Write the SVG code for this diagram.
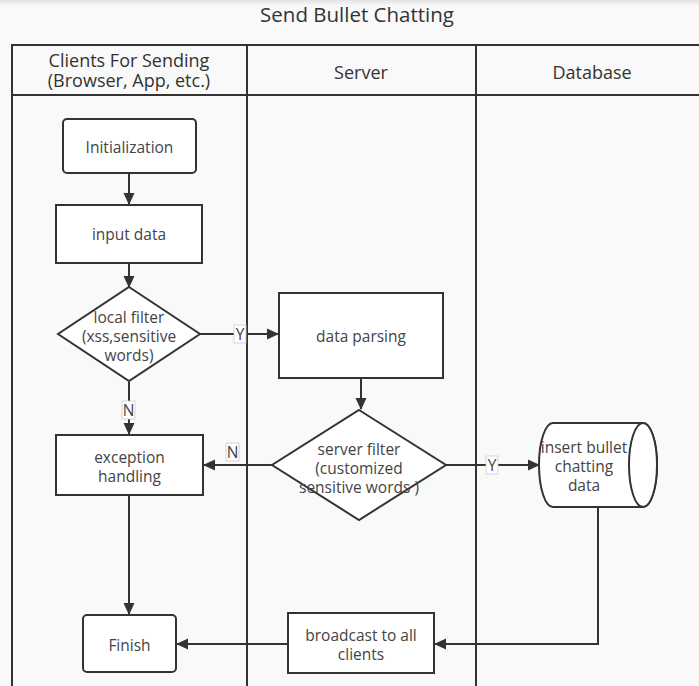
<svg xmlns="http://www.w3.org/2000/svg" width="699" height="686" viewBox="0 0 699 686">
<defs>
<marker id="ah" markerWidth="12" markerHeight="12" refX="11" refY="6" orient="auto" markerUnits="userSpaceOnUse" viewBox="0 0 12 12">
<path d="M0,0.500 L12,6 L0,11.500 Z" fill="#333"/>
</marker>
<linearGradient id="sh" x1="0" y1="0" x2="0" y2="1">
<stop offset="0" stop-color="#e4e4e4"/>
<stop offset="1" stop-color="#f9f9f9"/>
</linearGradient>
</defs>
<style>
text{font-family:"Open Sans","Noto Sans","Liberation Sans",sans-serif;fill:#444;text-anchor:middle}
.t{font-size:15.500px}
.h{font-size:18px;fill:#333}
.node{fill:#fff;stroke:#333;stroke-width:2}
.lane{fill:none;stroke:#333;stroke-width:2}
.c{fill:none;stroke:#333;stroke-width:2}
.lb{fill:#fff;stroke:#ccc;stroke-width:0.8}
</style>
<rect width="699" height="686" fill="#f9f9f9"/>
<rect width="699" height="6" fill="url(#sh)"/>
<text x="357" y="22" style="font-size:20.500px;fill:#333">Send Bullet Chatting</text>
<g id="lanes">
<path class="lane" d="M12,686 V45 H699 M12,95 H699 M247,45 V686 M476,45 V686"/>
<text class="h" x="129" y="67">Clients For Sending</text>
<text class="h" x="129" y="87">(Browser, App, etc.)</text>
<text class="h" x="361" y="79">Server</text>
<text class="h" x="592" y="79">Database</text>
</g>
<g id="connectors">
<path class="c" d="M129,173 V204" marker-end="url(#ah)"/>
<path class="c" d="M129,263 V287" marker-end="url(#ah)"/>
<path class="c" d="M200,334 H278" marker-end="url(#ah)"/>
<path class="c" d="M361,378 V409" marker-end="url(#ah)"/>
<path class="c" d="M129,382 V434" marker-end="url(#ah)"/>
<path class="c" d="M272,465 H204" marker-end="url(#ah)"/>
<path class="c" d="M446,465 H539" marker-end="url(#ah)"/>
<path class="c" d="M129,495 V614" marker-end="url(#ah)"/>
<path class="c" d="M598,507 V644 H435" marker-end="url(#ah)"/>
<path class="c" d="M288,644 H177" marker-end="url(#ah)"/>
<rect class="lb" x="234" y="325" width="12" height="18"/>
<text class="t" x="240" y="340">Y</text>
<rect class="lb" x="122" y="401" width="13" height="18"/>
<text class="t" x="128.500" y="416">N</text>
<rect class="lb" x="226" y="443" width="13" height="18"/>
<text class="t" x="232.500" y="458">N</text>
<rect class="lb" x="486" y="456" width="12" height="18"/>
<text class="t" x="492" y="471">Y</text>
</g>
<g id="init">
<rect class="node" x="63" y="119" width="133" height="54" rx="4"/>
<text class="t" x="129.500" y="153">Initialization</text>
</g>
<g id="input">
<rect class="node" x="56" y="205" width="146" height="58"/>
<text class="t" x="129" y="240">input data</text>
</g>
<g id="localfilter">
<polygon class="node" points="129,287 200,334 129,381 58,334"/>
<text class="t" x="129" y="323">local filter</text>
<text class="t" x="129" y="342">(xss,sensitive</text>
<text class="t" x="129" y="361">words)</text>
</g>
<g id="parsing">
<rect class="node" x="279" y="293" width="164" height="85"/>
<text class="t" x="361" y="342">data parsing</text>
</g>
<g id="serverfilter">
<polygon class="node" points="359,410 446,465 359,520 272,465"/>
<text class="t" x="359" y="455">server filter</text>
<text class="t" x="359" y="474">(customized</text>
<text class="t" x="359" y="493">sensitive words )</text>
</g>
<g id="exception">
<rect class="node" x="56" y="435" width="147" height="60"/>
<text class="t" x="129.500" y="463">exception</text>
<text class="t" x="129.500" y="482">handling</text>
</g>
<g id="insert">
<path class="node" d="M553,423 H643 A14,42 0 0 1 643,507 H553 A14,42 0 0 1 553,423 Z"/>
<ellipse class="node" cx="643" cy="465" rx="14" ry="42"/>
<text class="t" x="584" y="453">insert bullet</text>
<text class="t" x="584" y="472">chatting</text>
<text class="t" x="584" y="491">data</text>
</g>
<g id="broadcast">
<rect class="node" x="288" y="613" width="146" height="60"/>
<text class="t" x="361" y="641">broadcast to all</text>
<text class="t" x="361" y="660">clients</text>
</g>
<g id="finish">
<rect class="node" x="83" y="615" width="93" height="57" rx="4"/>
<text class="t" x="129.500" y="651">Finish</text>
</g>
</svg>
